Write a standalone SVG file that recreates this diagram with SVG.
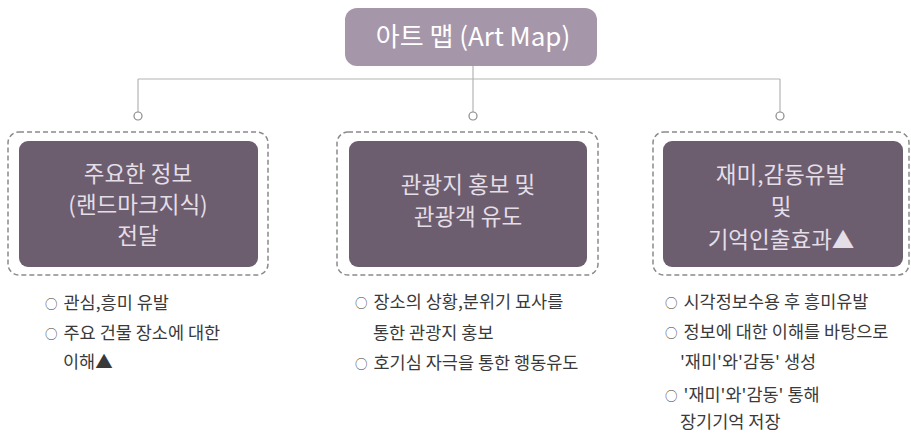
<svg xmlns="http://www.w3.org/2000/svg" width="911" height="444" viewBox="0 0 911 444">
<style>
text{font-family:"Noto Sans CJK KR","Noto Sans",sans-serif}
.top{fill:#a696a9}
.box{fill:#6c5d6f}
.dash{fill:none;stroke:#8a8a8a;stroke-width:1.5;stroke-dasharray:5 3}
.bt{fill:#e4dee6;font-size:22.5px;text-anchor:middle}
.tt{fill:#ffffff;font-size:26px;text-anchor:middle}
.li{fill:#3a3a3a;font-size:17.5px}
.b{font-size:12.5px}
.cn{stroke:#b4b4b4;stroke-width:1.2;fill:none}
.dot{fill:#fff;stroke:#8a8a8a;stroke-width:1.2}
</style>
<rect width="911" height="444" fill="#fff"/>
<g id="connectors">
<line class="cn" x1="138" y1="79" x2="780" y2="79"/>
<line class="cn" x1="473" y1="66" x2="473" y2="112"/>
<line class="cn" x1="138" y1="79" x2="138" y2="112"/>
<line class="cn" x1="780" y1="79" x2="780" y2="112"/>
<circle class="dot" cx="138" cy="116" r="4"/>
<circle class="dot" cx="473" cy="116" r="4"/>
<circle class="dot" cx="780" cy="116" r="4"/>
</g>
<g id="root">
<rect class="top" x="345" y="8" width="252" height="58" rx="12"/>
<text class="tt" x="473" y="46">아트 맵 (Art Map)</text>
</g>
<g id="node1">
<rect class="dash" x="8" y="132" width="260" height="143" rx="11"/>
<rect class="box" x="19" y="141" width="239" height="126" rx="9"/>
<text class="bt" x="138" y="182">주요한 정보</text>
<text class="bt" x="138" y="213">(랜드마크지식)</text>
<text class="bt" x="138" y="244">전달</text>
</g>
<g id="node2">
<rect class="dash" x="337" y="132" width="261" height="143" rx="11"/>
<rect class="box" x="349" y="141" width="238" height="126" rx="9"/>
<text class="bt" x="468" y="193">관광지 홍보 및</text>
<text class="bt" x="468" y="225">관광객 유도</text>
</g>
<g id="node3">
<rect class="dash" x="653" y="132" width="256" height="143" rx="11"/>
<rect class="box" x="663" y="141" width="240" height="126" rx="9"/>
<text class="bt" x="781" y="183">재미,감동유발</text>
<text class="bt" x="781" y="215">및</text>
<text class="bt" x="781" y="248">기억인출효과▲</text>
</g>
<g id="list1">
<text class="li" x="45" y="309"><tspan class="b">○</tspan><tspan dx="6">관심,흥미 유발</tspan></text>
<text class="li" x="45" y="339"><tspan class="b">○</tspan><tspan dx="6">주요 건물 장소에 대한</tspan></text>
<text class="li" x="63" y="368">이해▲</text>
</g>
<g id="list2">
<text class="li" x="355" y="308"><tspan class="b">○</tspan><tspan dx="6">장소의 상황,분위기 묘사를</tspan></text>
<text class="li" x="373" y="339">통한 관광지 홍보</text>
<text class="li" x="355" y="369"><tspan class="b">○</tspan><tspan dx="6">호기심 자극을 통한 행동유도</tspan></text>
</g>
<g id="list3">
<text class="li" x="665" y="308"><tspan class="b">○</tspan><tspan dx="6">시각정보수용 후 흥미유발</tspan></text>
<text class="li" x="665" y="338"><tspan class="b">○</tspan><tspan dx="6">정보에 대한 이해를 바탕으로</tspan></text>
<text class="li" x="680" y="368">'재미'와'감동' 생성</text>
<text class="li" x="665" y="401"><tspan class="b">○</tspan><tspan dx="6">'재미'와'감동' 통해</tspan></text>
<text class="li" x="680" y="428">장기기억 저장</text>
</g>
</svg>
